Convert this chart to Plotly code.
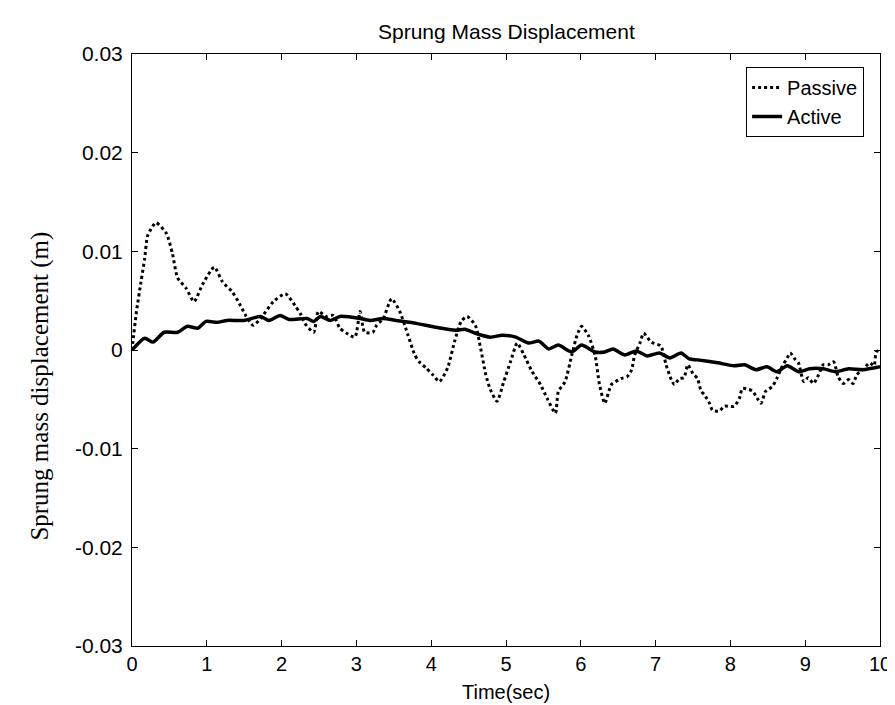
import plotly.graph_objects as go

# ---------------- data ----------------
t_passive = [0.00, 0.01, 0.06, 0.12, 0.17, 0.21, 0.32, 0.46, 0.54, 0.61, 0.72, 0.83, 0.94,
             1.10, 1.21, 1.34, 1.45, 1.52, 1.62, 1.72, 1.89, 2.05, 2.18, 2.25, 2.31, 2.43,
             2.49, 2.60, 2.69, 2.78, 2.87, 2.98, 3.05, 3.11, 3.22, 3.27, 3.36, 3.47, 3.58,
             3.69, 3.78, 3.84, 3.93, 4.02, 4.11, 4.22, 4.31, 4.40, 4.48, 4.59, 4.66, 4.73,
             4.79, 4.88, 4.97, 5.06, 5.15, 5.24, 5.35, 5.46, 5.55, 5.66, 5.70, 5.79, 5.88,
             5.95, 6.01, 6.10, 6.19, 6.25, 6.32, 6.41, 6.54, 6.62, 6.68, 6.72, 6.79, 6.84,
             6.94, 7.07, 7.14, 7.21, 7.25, 7.32, 7.38, 7.43, 7.50, 7.56, 7.61, 7.65, 7.72,
             7.76, 7.85, 7.92, 8.05, 8.12, 8.16, 8.25, 8.30, 8.36, 8.41, 8.47, 8.56, 8.62,
             8.69, 8.76, 8.80, 8.87, 8.91, 8.98, 9.04, 9.11, 9.18, 9.24, 9.31, 9.38, 9.44,
             9.51, 9.58, 9.64, 9.69, 9.77, 9.86, 9.92, 9.95, 10.00]
v_passive = [0.0000, 0.0007, 0.0039, 0.0069, 0.0093, 0.0116, 0.0129, 0.0118, 0.0098, 0.0073,
             0.0063, 0.0049, 0.0066, 0.0084, 0.0069, 0.0059, 0.0045, 0.0035, 0.0025, 0.0032,
             0.0049, 0.0057, 0.0045, 0.0037, 0.0027, 0.0018, 0.0039, 0.0034, 0.0035, 0.0022,
             0.0017, 0.0013, 0.0039, 0.0018, 0.0018, 0.0025, 0.0032, 0.0052, 0.0039, 0.0015,
             -0.0005, -0.0012, -0.0018, -0.0025, -0.0032, -0.0018, 0.0008, 0.0029, 0.0034,
             0.0025, 0.0002, -0.0025, -0.0040, -0.0052, -0.0032, -0.0012, 0.0007, -0.0005,
             -0.0022, -0.0035, -0.0049, -0.0064, -0.0042, -0.0032, -0.0005, 0.0015, 0.0024,
             0.0015, -0.0005, -0.0035, -0.0054, -0.0035, -0.0029, -0.0027, -0.0020, -0.0005,
             0.0007, 0.0017, 0.0008, 0.0004, -0.0015, -0.0030, -0.0035, -0.0029, -0.0028,
             -0.0015, -0.0024, -0.0029, -0.0042, -0.0045, -0.0054, -0.0061, -0.0062, -0.0057,
             -0.0057, -0.0049, -0.0039, -0.0040, -0.0042, -0.0049, -0.0054, -0.0042, -0.0037,
             -0.0029, -0.0017, -0.0008, -0.0003, -0.0010, -0.0013, -0.0032, -0.0028, -0.0034,
             -0.0025, -0.0015, -0.0015, -0.0012, -0.0027, -0.0034, -0.0030, -0.0034, -0.0025,
             -0.0020, -0.0013, -0.0016, -0.0002, 0.0000]

t_active = [0.00, 0.17, 0.28, 0.43, 0.61, 0.74, 0.88, 0.99, 1.14, 1.27, 1.50, 1.72, 1.83,
            1.98, 2.10, 2.34, 2.43, 2.52, 2.65, 2.78, 3.05, 3.18, 3.36, 3.53, 3.80, 4.06,
            4.33, 4.45, 4.59, 4.79, 4.95, 5.13, 5.30, 5.44, 5.57, 5.70, 5.88, 6.01, 6.19,
            6.32, 6.43, 6.59, 6.74, 6.89, 7.05, 7.19, 7.34, 7.45, 7.56, 7.83, 8.05, 8.19,
            8.34, 8.49, 8.62, 8.76, 8.91, 9.06, 9.24, 9.41, 9.58, 9.77, 10.00]
v_active = [0.0000, 0.0012, 0.0008, 0.0018, 0.0018, 0.0024, 0.0022, 0.0029, 0.0028, 0.0030,
            0.0030, 0.0034, 0.0030, 0.0035, 0.0031, 0.0032, 0.0029, 0.0034, 0.0030, 0.0034,
            0.0032, 0.0030, 0.0032, 0.0030, 0.0027, 0.0023, 0.0020, 0.0021, 0.0017, 0.0013,
            0.0015, 0.0013, 0.0007, 0.0009, 0.0001, 0.0005, -0.0002, 0.0005, -0.0002,
            -0.0002, 0.0001, -0.0005, -0.0001, -0.0006, -0.0003, -0.0008, -0.0003, -0.0009,
            -0.0010, -0.0013, -0.0016, -0.0015, -0.0020, -0.0017, -0.0022, -0.0016, -0.0022,
            -0.0019, -0.0019, -0.0022, -0.0019, -0.0020, -0.0017]

x_ticks = [0, 1, 2, 3, 4, 5, 6, 7, 8, 9, 10]
y_ticks = [-0.03, -0.02, -0.01, 0, 0.01, 0.02, 0.03]
y_tick_labels = ["-0.03", "-0.02", "-0.01", "0", "0.01", "0.02", "0.03"]

# ---------------- figure ----------------
W, H = 895, 705
L, R, T, B = 124, 18, 46, 67
PW, PH = W - L - R, H - T - B
SANS = "Liberation Sans, Arial, sans-serif"
SERIF = "Liberation Serif, Times New Roman, serif"

fig = go.Figure()
fig.add_trace(go.Scatter(x=t_passive, y=v_passive, mode="lines", name="Passive",
                         line=dict(color="black", width=3, dash="dot", shape="spline", smoothing=0.6)))
fig.add_trace(go.Scatter(x=t_active, y=v_active, mode="lines", name="Active",
                         line=dict(color="black", width=3.5, shape="spline", smoothing=0.6)))

axis_common = dict(showgrid=False, zeroline=False, showline=True, linecolor="black",
                   linewidth=1, mirror="ticks", ticks="inside", ticklen=6,
                   tickcolor="black")

fig.update_layout(
    width=W, height=H,
    paper_bgcolor="white", plot_bgcolor="white",
    margin=dict(l=L, r=R, t=T, b=B),
    xaxis=dict(range=[0, 10], tickvals=x_ticks, ticktext=[str(v) for v in x_ticks],
               ticklabelstandoff=0, tickfont=dict(family=SANS, size=20, color="black"),
               **axis_common),
    yaxis=dict(range=[-0.03, 0.03], tickvals=y_ticks, ticktext=y_tick_labels,
               ticklabelstandoff=4, tickfont=dict(family=SANS, size=21, color="black"),
               **axis_common),
    legend=dict(x=(861 - L) / PW, y=1 - (59 - T) / PH, xanchor="right", yanchor="top",
                bgcolor="white", bordercolor="black", borderwidth=1,
                font=dict(family=SANS, size=20, color="black"),
                tracegroupgap=0, itemwidth=30),
    showlegend=True,
    annotations=[
        dict(text="Sprung Mass Displacement", xref="paper", yref="paper",
             x=0.5, y=1 + (T - 23) / PH, xanchor="center", yanchor="middle",
             showarrow=False, font=dict(family=SANS, size=21, color="black")),
        dict(text="Time(sec)", xref="paper", yref="paper",
             x=0.5, y=-(684 - (T + PH)) / PH, xanchor="center", yanchor="middle",
             showarrow=False, font=dict(family=SANS, size=20, color="black")),
        dict(text="Sprung mass displacement (m)", xref="paper", yref="paper",
             x=-(L - 31) / PW, y=(T + PH - 378) / PH, xanchor="center", yanchor="middle",
             textangle=-90, showarrow=False, font=dict(family=SERIF, size=25, color="black")),
    ],
)

fig.write_html("out.html")
